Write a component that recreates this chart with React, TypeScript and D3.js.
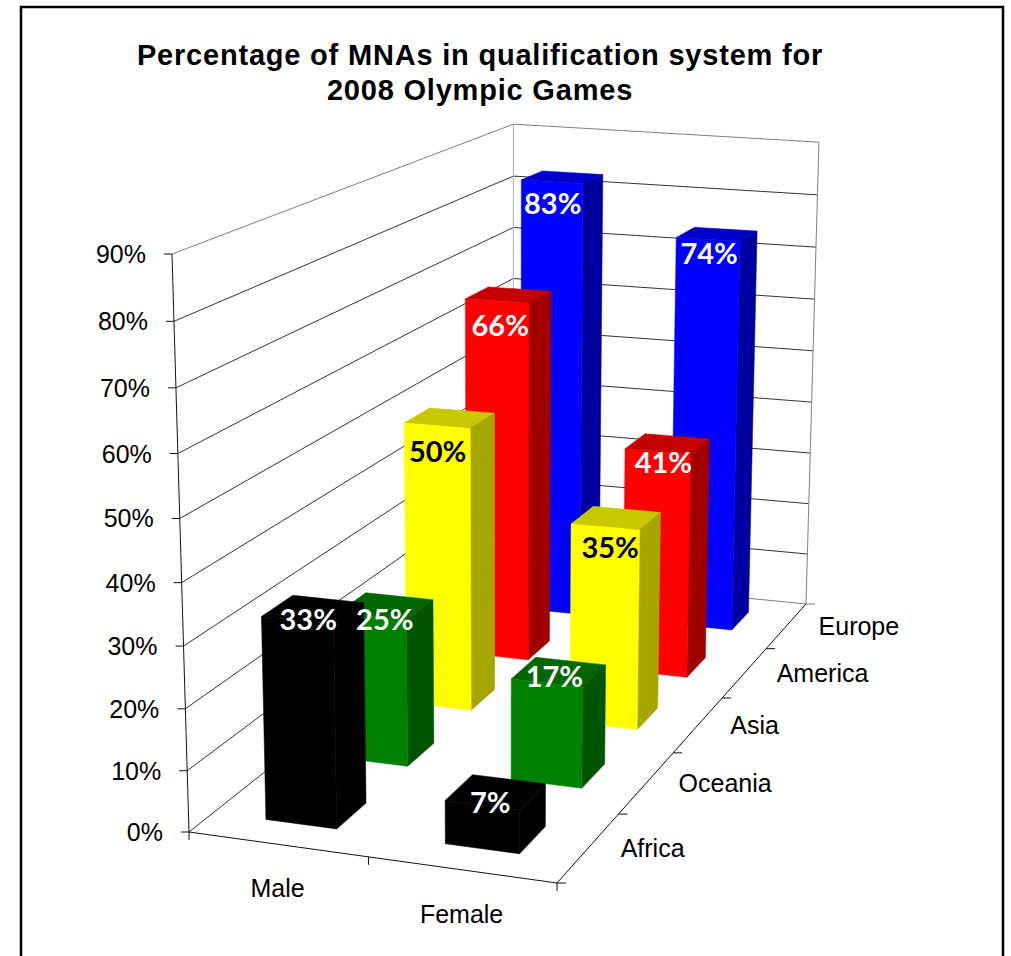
import React, { useEffect, useRef } from 'react';
import * as d3 from 'd3';

const genders = ['Male', 'Female'];
const regions = ['Africa', 'Oceania', 'Asia', 'America', 'Europe'];
const maleValues = [0.33, 0.25, 0.5, 0.66, 0.83];
const femaleValues = [0.07, 0.17, 0.35, 0.41, 0.74];
const frontColors = ['#000000', '#008000', '#ffff00', '#ff0000', '#0000ff'];
const topColors = ['#000000', '#006600', '#c8c800', '#c40000', '#0000c8'];
const sideColors = ['#000000', '#005500', '#a6a600', '#a00000', '#0000a0'];
const labelColors = ['#ffffff', '#ffffff', '#000000', '#ffffff', '#ffffff'];
const titleLines = ['Percentage of MNAs in qualification system for', '2008 Olympic Games'];

const width = 1011;
const height = 956;

// floor corners on screen: front-left, front-right, back-right, back-left
const floor = [[189, 832], [557, 883], [806, 604], [513, 575]];
const vanish = [502, 11470];
const lift = -0.05153;

// data labels don't sit in a regular spot on the bars, so each gets a small shift
const labelShiftX = [[-5, -3, -9, -2, 0], [-11, -8, -6, -3, 0]];
const labelShiftY = [[-3, 3, 15, 8, -2], [5, -3, 16, 3, -6]];

const floorMatrix = () => {
  const [[x0, y0], [x1, y1], [x2, y2], [x3, y3]] = floor;
  const dx1 = x1 - x2, dx2 = x3 - x2, sx = x0 - x1 + x2 - x3;
  const dy1 = y1 - y2, dy2 = y3 - y2, sy = y0 - y1 + y2 - y3;
  const den = dx1 * dy2 - dx2 * dy1;
  const g = (sx * dy2 - dx2 * sy) / den;
  const h = (dx1 * sy - sx * dy1) / den;
  return {
    a: x1 - x0 + g * x1, b: x3 - x0 + h * x3, c: x0,
    d: y1 - y0 + g * y1, e: y3 - y0 + h * y3, f: y0,
    g, h,
  };
};
const m = floorMatrix();

// u across genders, v into the depth, z up the value axis (all 0..1)
const project = (u: number, v: number, z: number): [number, number] => {
  // back right corner comes out a bit too tall otherwise
  const k = z * lift * (1 - 0.012 * z * Math.sqrt(u) * v);
  const w = m.g * u + m.h * v + 1 + k;
  return [
    (m.a * u + m.b * v + m.c + k * vanish[0]) / w,
    (m.d * u + m.e * v + m.f + k * vanish[1]) / w,
  ];
};

const App = () => {
  const ref = useRef<SVGSVGElement>(null);

  useEffect(() => {
    const svg = d3.select(ref.current);
    svg.selectAll('*').remove();

    const zScale = d3.scaleLinear().domain([0, 0.9]).range([0, 1]);
    const uScale = d3.scaleBand().domain(genders).range([0, 1]).paddingInner(0.6).paddingOuter(0.3);
    const vScale = d3.scaleBand().domain(regions).range([0, 1]).paddingInner(0.6).paddingOuter(0.3);
    const labelDx = d3.scaleLinear().domain([0, 1]).range([7, -13]);
    const labelDy = d3.scaleLinear().domain([0, 1]).range([2, 32]);
    const percent = d3.format('.0%');
    const line = d3.line();
    const sans = '"Liberation Sans", Arial, sans-serif';

    svg.append('rect').attr('width', width).attr('height', height).attr('fill', '#fff');
    svg.append('rect')
      .attr('x', 21).attr('y', 7)
      .attr('width', 982).attr('height', height + 20)
      .attr('fill', 'none').attr('stroke', '#000').attr('stroke-width', 2.5);

    const seg = (a: [number, number], b: [number, number], color: string) =>
      svg.append('path').attr('d', line([a, b])).attr('fill', 'none').attr('stroke', color).attr('stroke-width', 1);

    // walls
    const zTicks = zScale.ticks(9);
    zTicks.forEach(t => {
      const z = zScale(t);
      const edge = t === 0.9 ? '#808080' : '#333333';
      seg(project(0, 0, z), project(0, 1, z), edge);
      seg(project(0, 1, z), project(1, 1, z), t === 0 ? '#808080' : edge);
    });
    seg(project(0, 1, 0), project(0, 1, 1), '#b0b0b0');
    seg(project(1, 1, 0), project(1, 1, 1), '#808080');

    // axes
    seg(project(0, 0, 0), project(0, 0, 1), '#111');
    seg(project(0, 0, 0), project(1, 0, 0), '#111');
    seg(project(1, 0, 0), project(1, 1, 0), '#111');

    zTicks.forEach(t => {
      const [x, y] = project(0, 0, zScale(t));
      seg([x - 8, y], [x, y], '#111');
      svg.append('text')
        .attr('x', x - 26).attr('y', y)
        .attr('text-anchor', 'end').attr('dominant-baseline', 'central')
        .attr('font-family', sans).attr('font-size', 25)
        .attr('fill', '#000')
        .text(percent(t));
    });

    [0, 0.5, 1].forEach(u => {
      const [x, y] = project(u, 0, 0);
      seg([x, y], [x, y + 8], '#111');
    });
    d3.range(0, 6).forEach(i => {
      const [x, y] = project(1, i / 5, 0);
      seg([x, y], [x + 9, y], i === 5 ? '#808080' : '#111');
    });

    genders.forEach(g => {
      const [x, y] = project((uScale(g) as number) + uScale.bandwidth() / 2, 0, 0);
      svg.append('text')
        .attr('x', x).attr('y', y + 44)
        .attr('text-anchor', 'middle').attr('dominant-baseline', 'central')
        .attr('font-family', sans).attr('font-size', 25)
        .text(g);
    });
    regions.forEach(r => {
      const [x, y] = project(1, (vScale(r) as number) + vScale.bandwidth() / 2, 0);
      svg.append('text')
        .attr('x', x + 32).attr('y', y)
        .attr('dominant-baseline', 'central')
        .attr('font-family', sans).attr('font-size', 25)
        .text(r);
    });

    // bars, back row first
    const poly = (pts: [number, number][], color: string) =>
      svg.append('path').attr('d', line(pts) + 'Z').attr('fill', color).attr('stroke', color).attr('stroke-width', 0.5);

    const series = [maleValues, femaleValues];
    d3.range(regions.length - 1, -1, -1).forEach(ri => {
      genders.forEach((g, gi) => {
        const value = series[gi][ri];
        const u0 = uScale(g) as number;
        const u1 = u0 + uScale.bandwidth();
        const v0 = vScale(regions[ri]) as number;
        const v1 = v0 + vScale.bandwidth();
        const z = zScale(value);
        poly([project(u0, v0, z), project(u1, v0, z), project(u1, v1, z), project(u0, v1, z)], topColors[ri]);
        poly([project(u1, v0, 0), project(u1, v1, 0), project(u1, v1, z), project(u1, v0, z)], sideColors[ri]);
        poly([project(u0, v0, 0), project(u1, v0, 0), project(u1, v0, z), project(u0, v0, z)], frontColors[ri]);
      });
    });

    // labels go on top of everything
    d3.range(regions.length - 1, -1, -1).forEach(ri => {
      genders.forEach((g, gi) => {
        const value = series[gi][ri];
        const [x, y] = project(
          (uScale(g) as number) + uScale.bandwidth() / 2,
          (vScale(regions[ri]) as number) + vScale.bandwidth() / 2,
          zScale(value),
        );
        svg.append('text')
          .attr('x', x + labelDx(value) + labelShiftX[gi][ri])
          .attr('y', y + labelDy(value) + labelShiftY[gi][ri])
          .attr('text-anchor', 'middle').attr('dominant-baseline', 'central')
          .attr('font-family', 'Lato, sans-serif').attr('font-weight', 700).attr('font-size', 29)
          .attr('fill', labelColors[ri])
          .text(percent(value));
      });
    });

    svg.append('text')
      .attr('x', 480).attr('y', 65)
      .attr('text-anchor', 'middle')
      .attr('font-family', sans).attr('font-weight', 700).attr('font-size', 29)
      .attr('letter-spacing', 0.8)
      .selectAll('tspan')
      .data(titleLines)
      .enter().append('tspan')
      .attr('x', 480)
      .attr('dy', (d, i) => (i === 0 ? 0 : 35))
      .text(d => d);
  }, []);

  return <svg ref={ref} width={width} height={height} style={{ position: 'absolute', left: 0, top: 0 }}></svg>;
};

export default App;
